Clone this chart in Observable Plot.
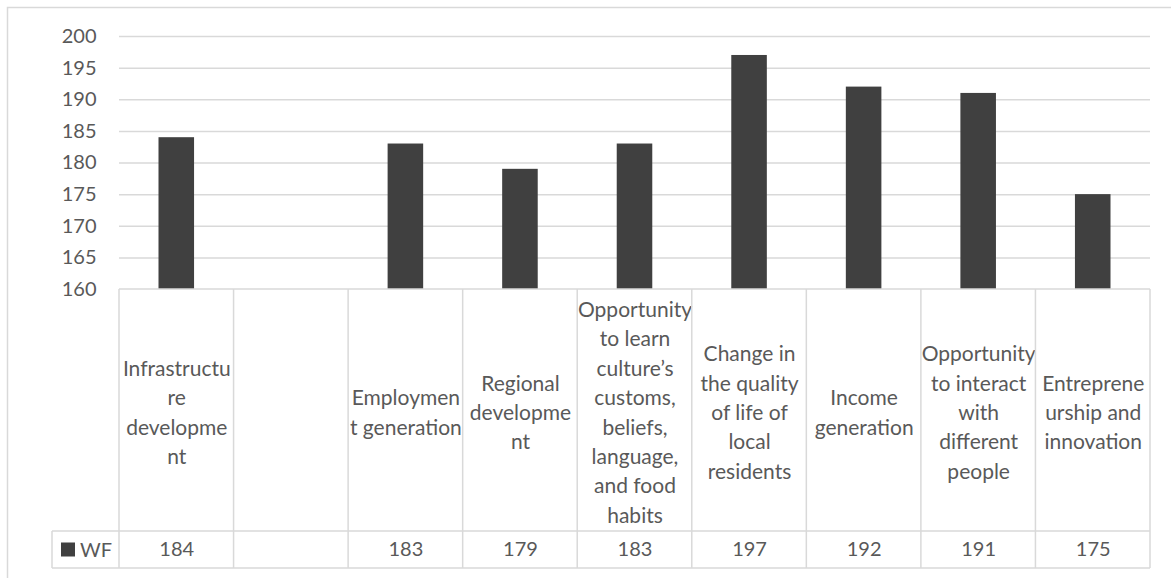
<!DOCTYPE html>
<html><head><meta charset="utf-8">
<script src="https://cdn.jsdelivr.net/npm/d3@7"></script>
<script src="https://cdn.jsdelivr.net/npm/@observablehq/plot@0.6"></script>
<style>
body{margin:0;background:#fff;}
#chart svg{display:block;}
</style>
</head><body><div id="chart"></div>
<script>
const categories = [
  "Infrastructure development",
  "",
  "Employment generation",
  "Regional development",
  "Opportunity to learn culture’s customs, beliefs, language, and food habits",
  "Change in the quality of life of local residents",
  "Income generation",
  "Opportunity to interact with different people",
  "Entrepreneurship and innovation"
];
const categoryLines = [
  ["Infrastructu", "re", "developme", "nt"],
  [],
  ["Employmen", "t generation"],
  ["Regional", "developme", "nt"],
  ["Opportunity", "to learn", "culture’s", "customs,", "beliefs,", "language,", "and food", "habits"],
  ["Change in", "the quality", "of life of", "local", "residents"],
  ["Income", "generation"],
  ["Opportunity", "to interact", "with", "different", "people"],
  ["Entreprene", "urship and", "innovation"]
];
const wf = [184, null, 183, 179, 183, 197, 192, 191, 175];
const seriesName = "WF";
const yTicks = [160, 165, 170, 175, 180, 185, 190, 195, 200];

(function () {
const rows = categories.map((c, i) => ({cat: c, label: categoryLines[i].join("\n"), value: wf[i]}));

const FONT = "Lato, 'Open Sans', sans-serif";
const TXT = "#595959";
const GRID = "#d9d9d9";
const BAR = "#404040";

const chart = Plot.plot({
  width: 1171,
  height: 578,
  marginLeft: 119,
  marginRight: 21,
  marginTop: 36,
  marginBottom: 289,
  style: {fontFamily: FONT, fontSize: "20px", color: TXT, background: "#fff"},
  x: {domain: categories, padding: 0, round: false, axis: null},
  y: {domain: [yTicks[0], yTicks[yTicks.length - 1]], label: null},
  marks: [
    Plot.ruleY(yTicks.slice(1), {stroke: GRID, strokeWidth: 1.5}),
    Plot.barY(rows.filter(d => d.value != null), {
      x: "cat", y1: yTicks[0], y2: "value", fill: BAR, insetLeft: 39.5, insetRight: 39.5
    }),
    Plot.axisY({ticks: yTicks, tickSize: 0, tickPadding: 23, fontSize: 20, fill: TXT, label: null, tickFormat: d => String(d)}),
    Plot.text(rows, {
      x: "cat", text: "label", frameAnchor: "bottom", dy: 121,
      lineAnchor: "middle", lineHeight: 1.4, fill: TXT, fontSize: 21
    }),
    Plot.text(rows.filter(d => d.value != null), {
      x: "cat", text: d => String(d.value), frameAnchor: "bottom", dy: 260,
      lineAnchor: "middle", fill: TXT, fontSize: 20
    })
  ]
});

document.getElementById("chart").appendChild(chart);

// table grid and legend, positioned from Plot's own scales
const xs = chart.scale("x");
const ys = chart.scale("y");
const svg = d3.select(chart);
const g = svg.append("g").attr("fill", "none").attr("stroke", GRID).attr("stroke-width", 1.5);
const xLeft = xs.apply(categories[0]);
const xRight = xs.apply(categories[categories.length - 1]) + xs.bandwidth;
const yTop = ys.apply(yTicks[0]);
const yMid = yTop + 242;
const yBot = yTop + 279;
const legLeft = xLeft - 67;

g.append("line").attr("x1", xLeft).attr("x2", xRight).attr("y1", yTop).attr("y2", yTop);
g.append("line").attr("x1", legLeft).attr("x2", xRight).attr("y1", yMid).attr("y2", yMid);
g.append("line").attr("x1", legLeft).attr("x2", xRight).attr("y1", yBot).attr("y2", yBot);
g.append("line").attr("x1", legLeft).attr("x2", legLeft).attr("y1", yMid).attr("y2", yBot);
categories.forEach(c => {
  const x0 = xs.apply(c);
  g.append("line").attr("x1", x0).attr("x2", x0).attr("y1", yTop).attr("y2", yBot);
});
g.append("line").attr("x1", xRight).attr("x2", xRight).attr("y1", yTop).attr("y2", yBot);

// outer chart border (left and top edges visible)
g.append("path").attr("d", `M7.5,578V7.5H1171`);

// legend key
const legY = (yMid + yBot) / 2;
svg.append("rect").attr("x", legLeft + 9).attr("y", legY - 7).attr("width", 14).attr("height", 14).attr("fill", BAR);
svg.append("text").attr("x", legLeft + 28).attr("y", legY).attr("dy", "0.35em")
  .attr("text-anchor", "start")
  .attr("fill", TXT).attr("font-size", 20).attr("font-family", FONT).text(seriesName);
})();
</script>
</body></html>
